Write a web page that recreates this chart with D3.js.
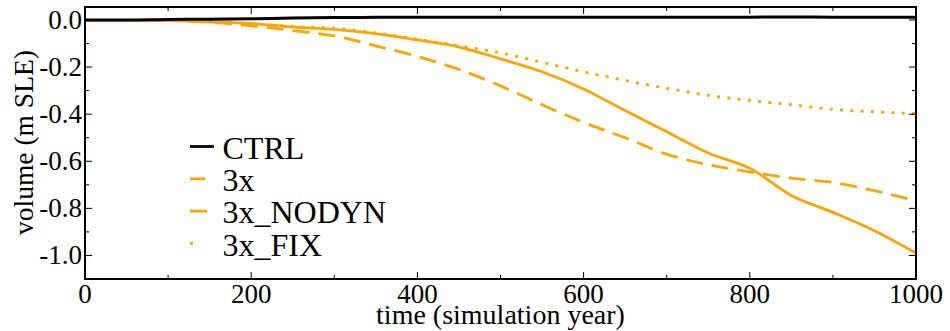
<!DOCTYPE html>
<html>
<head>
<meta charset="utf-8">
<script src="https://cdn.jsdelivr.net/npm/d3@7"></script>
<style>
  body { margin: 0; background: #fff; }
</style>
</head>
<body>
<svg id="chart" width="950" height="331"></svg>
<script>
// values (year -> m SLE)
var years = [0, 50, 100, 150, 200, 250, 300, 350, 400, 450, 500, 550, 600, 650, 700, 750, 800, 850, 900, 950, 1000];
var ctrl = [0, 0, 0.002, 0.003, 0.005, 0.008, 0.01, 0.011, 0.012, 0.012, 0.012, 0.011, 0.012, 0.012, 0.011, 0.012, 0.012, 0.013, 0.012, 0.012, 0.011];
var x3 = [-0.003, -0.003, -0.003, -0.008, -0.015, -0.03, -0.04, -0.058, -0.085, -0.115, -0.165, -0.22, -0.293, -0.385, -0.475, -0.565, -0.63, -0.745, -0.817, -0.895, -0.99];
var x3Nodyn = [-0.003, -0.003, -0.003, -0.01, -0.025, -0.045, -0.068, -0.11, -0.155, -0.21, -0.28, -0.36, -0.435, -0.5, -0.57, -0.615, -0.645, -0.672, -0.69, -0.725, -0.768];
var x3Fix = [-0.003, -0.003, -0.003, -0.008, -0.015, -0.028, -0.035, -0.055, -0.082, -0.11, -0.14, -0.18, -0.22, -0.257, -0.29, -0.32, -0.342, -0.36, -0.38, -0.39, -0.398];

var xTicks = [0, 200, 400, 600, 800, 1000];
var yTicks = [0, -0.2, -0.4, -0.6, -0.8, -1.0];

var series = [
  { name: "CTRL", values: ctrl, color: "#000", dash: null, legLen: 24 },
  { name: "3x", values: x3, color: "#ffa500", dash: null, legLen: 15 },
  { name: "3x_NODYN", values: x3Nodyn, color: "#ffa500", dash: "17,9", legLen: 17 },
  { name: "3x_FIX", values: x3Fix, color: "#ffa500", dash: "3,7.3", legLen: 3 }
];

var margin = { left: 85, right: 34, top: 7, bottom: 52 };
var width = 950 - margin.left - margin.right;
var height = 331 - margin.top - margin.bottom;

var svg = d3.select("#chart");
var g = svg.append("g")
  .attr("transform", "translate(" + margin.left + "," + margin.top + ")");

var x = d3.scaleLinear().domain([0, 1000]).range([0, width]);
var y = d3.scaleLinear().domain([-1.1, 0.055]).range([height, 0]);

// lines first, frame on top
var line = d3.line()
  .x(function(d, i) { return x(years[i]); })
  .y(function(d) { return y(d); })
  .curve(d3.curveMonotoneX);

series.slice().reverse().forEach(function(s) {
  g.append("path")
    .attr("fill", "none")
    .attr("stroke", s.color)
    .attr("stroke-width", s.name == "CTRL" ? 3 : 2.8)
    .attr("stroke-dasharray", s.dash)
    .attr("d", line(s.values));
});

// inward ticks on all four sides
var xMinor = d3.range(0, 1001, 100);
var yMinor = d3.range(0, 11).map(function(i) { return -i / 10; });

function tickLen(isMajor) { return isMajor ? 7 : 4; }

xMinor.forEach(function(v) {
  var major = v % 200 == 0;
  g.append("line").attr("x1", x(v)).attr("x2", x(v))
    .attr("y1", height).attr("y2", height - tickLen(major))
    .attr("stroke", "#000").attr("stroke-width", 1);
  g.append("line").attr("x1", x(v)).attr("x2", x(v))
    .attr("y1", 0).attr("y2", tickLen(major))
    .attr("stroke", "#000").attr("stroke-width", 1);
});

yMinor.forEach(function(v, i) {
  var major = i % 2 == 0;
  g.append("line").attr("x1", 0).attr("x2", tickLen(major))
    .attr("y1", y(v)).attr("y2", y(v))
    .attr("stroke", "#000").attr("stroke-width", 1);
  g.append("line").attr("x1", width).attr("x2", width - tickLen(major))
    .attr("y1", y(v)).attr("y2", y(v))
    .attr("stroke", "#000").attr("stroke-width", 1);
});

g.append("rect")
  .attr("width", width).attr("height", height)
  .attr("fill", "none").attr("stroke", "#000").attr("stroke-width", 2);

// tick labels
g.selectAll(".xlab").data(xTicks).enter().append("text")
  .attr("x", function(d) { return x(d); })
  .attr("y", height + 24)
  .attr("text-anchor", "middle")
  .style("font-size", "27px")
  .text(function(d) { return d; });

g.selectAll(".ylab").data(yTicks).enter().append("text")
  .attr("x", -3)
  .attr("y", function(d) { return y(d) + 9; })
  .attr("text-anchor", "end")
  .style("font-size", "27px")
  .text(function(d) { return d3.format(".1f")(d).replace("\u2212", "-"); });

// axis titles
svg.append("text")
  .attr("x", margin.left + width / 2)
  .attr("y", 324)
  .attr("text-anchor", "middle")
  .style("font-size", "28px")
  .text("time (simulation year)");

svg.append("text")
  .attr("transform", "translate(33,142.5) rotate(-90)")
  .attr("text-anchor", "middle")
  .style("font-size", "27.5px")
  .text("volume (m SLE)");

// legend
var legend = svg.append("g").attr("transform", "translate(190,146.5)");
series.forEach(function(s, i) {
  legend.append("line")
    .attr("x1", 0).attr("x2", s.legLen)
    .attr("y1", i * 32.3).attr("y2", i * 32.3)
    .attr("stroke", s.color).attr("stroke-width", 2.8);
  legend.append("text")
    .attr("x", 32.5).attr("y", i * 32.3 + 12.3)
    .style("font-size", "32px")
    .text(s.name);
});

// serif everywhere, set on each text node
svg.selectAll("text").style("font-family", "Liberation Serif");
</script>
</body>
</html>
